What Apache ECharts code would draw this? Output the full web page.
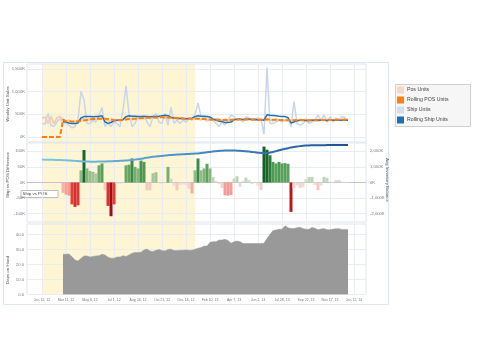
<!DOCTYPE html>
<html><head><meta charset="utf-8">
<script src="https://cdn.jsdelivr.net/npm/echarts@6/dist/echarts.min.js"></script>
<style>html,body{margin:0;padding:0;background:#fff}#c{width:480px;height:360px}</style>
</head><body><div id="c"></div>
<script>
// ---------- axis / category setup ----------
const AXIS_START = [2011, 11, 11];   // first (empty) week on the axis: Dec 11 2011
const AXIS_WEEKS = 114;              // weeks shown on the axis
const DATA_OFFSET = 5;               // week index of Jan 15 2012 (first data week, w0)
const xTickLabels = ['Jan 15, 12','Mar 11, 12','May 6, 12','Jul 1, 12','Aug 26, 12','Oct 21, 12','Dec 16, 12',
  'Feb 10, 13','Apr 7, 13','Jun 2, 13','Jul 28, 13','Sep 22, 13','Nov 17, 13','Jan 12, 14'];
const highlightRange = ['Jan 15, 12', 'Jan 6, 13'];
const salesTicks = [0, 500, 1000, 1500];
const diffTicks = [-100, -50, 0, 50, 100];
const invTicks = [-2000, -1000, 0, 1000, 2000];
const dohTicks = [0, 10, 20, 30, 40];

// ---------- data (K units), w0 = Jan 15 2012 ----------
const shipUnits = [300,280,520,260,230,330,400,330,300,260,
  200,230,380,1010,820,300,300,370,330,480,
  650,230,300,230,330,300,230,600,1130,520,
  230,300,450,420,480,330,230,450,520,330,
  300,520,260,660,300,370,300,370,330,400,
  370,500,750,450,420,450,400,370,300,230,
  330,260,370,480,450,370,400,330,450,420,
  380,400,420,400,60,1530,300,300,330,370,
  330,370,420,230,780,300,260,300,370,300,
  330,370,480,370,480,330,450,330,420,370,
  450,420,370];
const posUnits = [410,440,300,450,290,420,450,380,350,370,
  330,340,360,380,400,370,390,410,380,400,
  420,380,360,340,360,380,370,400,430,410,
  380,400,420,440,400,430,410,440,420,450,
  430,420,400,440,420,400,420,400,380,410,
  390,420,400,380,400,360,380,370,400,380,
  360,390,370,380,400,380,390,370,380,400,
  390,380,370,390,380,400,380,360,390,370,
  380,360,370,350,380,360,380,370,390,360,
  370,380,360,380,370,390,380,370,390,380,
  370,390,380];
const rollingPos = [0,0,0,0,0,0,0,380,350,345,
  340,340,345,355,365,375,385,395,400,405,
  405,400,395,385,375,370,370,375,385,395,
  400,405,410,415,420,425,425,430,430,435,
  435,430,430,425,425,420,415,410,405,405,
  400,405,405,400,395,390,385,380,380,380,
  375,375,375,380,380,385,385,385,385,385,
  385,385,380,380,380,385,385,380,380,375,
  375,370,370,370,370,370,370,370,370,370,
  370,370,370,375,375,375,375,375,378,380,
  380,380,380];
const rollingShipStart = 7;
const rollingShip = [340,330,310,300,300,310,420,450,450,450,
  445,450,455,470,330,300,320,360,370,370,
  380,450,470,460,460,455,450,455,450,445,
  450,455,460,470,480,470,430,420,410,410,
  410,405,410,415,450,470,460,460,455,440,
  400,370,350,340,320,320,330,380,390,390,
  385,390,390,385,385,380,380,370,490,480,
  475,470,460,455,450,430,310,330,360,370,
  370,365,365,370,370,375,370,370,365,370,
  370,375,370,370,370,370];
const diffStart = 7;
const shipVsPosDiff = [-33,-39,-42,-70,-78,-73,39,104,45,37,
  34,29,55,61,-25,-75,-108,-70,-5,-4,
  -2,55,57,77,50,45,70,66,-25,-25,
  30,33,-2,-5,2,50,12,-10,-25,-8,
  -6,-8,-20,-35,39,77,39,45,60,45,
  18,5,-5,-18,-41,-42,-40,13,20,-14,
  5,16,8,-5,1,-10,-24,115,105,87,
  66,61,66,61,62,60,-94,-18,-10,-18,
  -15,10,18,18,-8,-25,-10,18,15,3,
  2,8,8,3,2,1];
const avgInventory = [1470,1465,1460,1455,1450,1445,1440,1430,1420,1410,
  1400,1385,1370,1355,1345,1340,1335,1335,1335,1340,
  1345,1350,1355,1360,1370,1380,1390,1400,1410,1420,
  1440,1465,1495,1525,1560,1590,1620,1645,1665,1685,
  1705,1725,1745,1760,1775,1790,1800,1810,1820,1830,
  1840,1850,1865,1885,1910,1935,1960,1985,2005,2025,
  2040,2045,2045,2045,2045,2040,2035,2020,2000,1980,
  1960,1935,1910,1890,1880,1890,1920,1960,2010,2060,
  2110,2160,2200,2240,2275,2305,2330,2350,2365,2375,
  2380,2385,2388,2390,2392,2394,2396,2398,2400,2400,
  2402,2404,2405];
const dohStart = 7;
const daysOnHand = [26.8,26.9,27,25.2,23,22.3,24.1,25.7,25.7,25,
  25.4,25.7,25.9,26.8,26.4,24.9,24.2,24.2,25,25,
  25.9,25.3,26.4,27.5,28,28,28.2,29.7,30.3,29,
  28.6,29.5,30,29.3,29,30,30.2,29.3,29.3,29.5,
  29.5,29.7,29.5,29.5,30.2,30.8,31.3,32.3,32.3,34.8,
  35.2,35.2,36.3,36.3,36.8,36,34.2,35.2,35.6,35.2,
  34,34,34,34,34,34,34,34.2,37.4,40.1,
  42.6,43,43.5,43.5,45.9,44.5,44,44,44.5,44.9,
  44,43.5,43.5,44.7,44.2,43.2,43.6,44,43.2,43.2,
  43.6,43.9,43.9,43.4,43.4,43.2];

// ---------- build ----------
const MONTHS = ['Jan','Feb','Mar','Apr','May','Jun','Jul','Aug','Sep','Oct','Nov','Dec'];
const categories = [];
const t0 = Date.UTC(AXIS_START[0], AXIS_START[1], AXIS_START[2]);
for (let i = 0; i < AXIS_WEEKS; i++) {
  const d = new Date(t0 + i * 7 * 86400000);
  categories.push(MONTHS[d.getUTCMonth()] + ' ' + d.getUTCDate() + ', ' + String(d.getUTCFullYear()).slice(2));
}
function pad(arr, firstWeek) {
  return new Array(DATA_OFFSET + (firstWeek || 0)).fill(null).concat(arr);
}
const FONT = 'Liberation Sans, Arial, sans-serif';
const yLabelStyle = { fontSize: 4.2, color: '#7a7a7a', fontFamily: FONT };
const xLabelStyle = { fontSize: 3.5, color: '#7a7a7a', fontFamily: FONT };
const gridLine = '#e9edf2';
const borderCol = '#dfe6ee';
const showTick = (i, v) => xTickLabels.indexOf(v) >= 0;
const L = 27, W = 339;
const TITLE = 4.4;
function kfmt(v) { return Math.round(v).toLocaleString('en-US') + 'K'; }

function xAxisFor(gi, showLabels, hidden) {
  return {
    type: 'category', gridIndex: gi, data: categories, boundaryGap: false, show: !hidden,
    axisLine: { show: gi === 1, onZero: true, lineStyle: { color: '#c4c4c4', width: 1 } },
    axisTick: { show: false },
    axisLabel: Object.assign({ show: showLabels, interval: showTick, margin: 4 }, xLabelStyle),
    splitLine: { show: true, interval: showTick, lineStyle: { color: gridLine, width: 1 } }
  };
}

const chart = echarts.init(document.getElementById('c'), null, { renderer: 'canvas' });
chart.setOption({
  animation: false,
  textStyle: { fontFamily: FONT },
  grid: [
    { left: L, top: 64, width: W, height: 78, show: true, borderColor: borderCol, borderWidth: 1, backgroundColor: 'transparent' },
    { left: L, top: 143, width: W, height: 79, show: true, borderColor: borderCol, borderWidth: 1, backgroundColor: 'transparent' },
    { left: L, top: 224, width: W, height: 70.5, show: true, borderColor: borderCol, borderWidth: 1, backgroundColor: 'transparent' },
    { left: L, top: 64, width: W, height: 230.5, show: false }
  ],
  xAxis: [ xAxisFor(0, false), xAxisFor(1, false), xAxisFor(2, true), xAxisFor(3, false, true) ],
  yAxis: [
    { type: 'value', gridIndex: 0, min: -110, max: 1610,
      axisLine: { show: false }, axisTick: { show: false, customValues: salesTicks },
      axisLabel: Object.assign({ customValues: salesTicks, formatter: kfmt, margin: 2 }, yLabelStyle),
      splitLine: { show: true, lineStyle: { color: gridLine } } },
    { type: 'value', gridIndex: 1, min: -126.5, max: 126.5,
      axisLine: { show: false }, axisTick: { show: false, customValues: diffTicks },
      axisLabel: Object.assign({ customValues: diffTicks, formatter: kfmt, margin: 2 }, yLabelStyle),
      splitLine: { show: true, lineStyle: { color: gridLine } } },
    { type: 'value', gridIndex: 1, position: 'right', min: -2530, max: 2530,
      axisLine: { show: false }, axisTick: { show: false, customValues: invTicks },
      axisLabel: Object.assign({ customValues: invTicks, formatter: kfmt, margin: 4 }, yLabelStyle),
      splitLine: { show: false } },
    { type: 'value', gridIndex: 2, min: 0, max: 47,
      axisLine: { show: false }, axisTick: { show: false, customValues: dohTicks },
      axisLabel: Object.assign({ customValues: dohTicks, formatter: v => v.toFixed(1), margin: 3 }, yLabelStyle),
      splitLine: { show: true, lineStyle: { color: gridLine } } },
    { type: 'value', gridIndex: 3, min: 0, max: 1, show: false }
  ],
  visualMap: [{
    show: false, type: 'continuous', seriesIndex: 4, min: -110, max: 110,
    inRange: { color: ['#9b0b14','#c81a1f','#e5453d','#f2938a','#f4d2cd','#e2e6dc','#b8d1af','#86b57e','#4d9a52','#2a7a37','#155f29'] }
  }],
  legend: {
    orient: 'vertical', left: 397, top: 86.5, itemWidth: 7, itemHeight: 7, itemGap: 3,
    icon: 'rect', padding: 0,
    data: ['Pos Units', 'Rolling POS Units', 'Ship Units', 'Rolling Ship Units'],
    textStyle: { fontSize: 5.2, color: '#444', fontFamily: FONT, padding: [0, 0, 0, -2] }
  },
  graphic: [
    { type: 'rect', shape: { x: 3.5, y: 62.5, width: 385, height: 242 }, style: { fill: 'none', stroke: '#dde6f1', lineWidth: 1 }, z: -20 },
    { type: 'rect', shape: { x: 395.5, y: 84.5, width: 75, height: 42 }, style: { fill: '#f6f6f6', stroke: '#cfcfcf', lineWidth: 1 }, z: -20 },
    { type: 'text', x: 7.5, y: 104, rotation: Math.PI / 2, style: { text: 'Weekly Unit Sales', fontSize: TITLE, fill: '#555', align: 'center', verticalAlign: 'middle', fontFamily: FONT } },
    { type: 'text', x: 7.5, y: 175, rotation: Math.PI / 2, style: { text: 'Ship vs POS Difference', fontSize: TITLE, fill: '#555', align: 'center', verticalAlign: 'middle', fontFamily: FONT } },
    { type: 'text', x: 7.5, y: 270, rotation: Math.PI / 2, style: { text: 'Days on Hand', fontSize: TITLE, fill: '#555', align: 'center', verticalAlign: 'middle', fontFamily: FONT } },
    { type: 'text', x: 387.5, y: 180, rotation: -Math.PI / 2, style: { text: 'Avg Inventory Balance', fontSize: TITLE, fill: '#555', align: 'center', verticalAlign: 'middle', fontFamily: FONT } },
    { type: 'group', x: 21, y: 190.5, z: 50, children: [
      { type: 'rect', shape: { x: 0, y: 0, width: 37, height: 7 }, style: { fill: '#fff', stroke: '#b0b0b0', lineWidth: 0.8 } },
      { type: 'text', x: 1.5, y: 3.6, style: { text: 'Ship vs POS', fontSize: 4.4, fill: '#444', verticalAlign: 'middle', fontFamily: FONT } }
    ] }
  ],
  series: [
    { name: 'Ship Units', type: 'line', xAxisIndex: 0, yAxisIndex: 0, data: pad(shipUnits, 0), symbol: 'none',
      lineStyle: { color: '#c8d5ea', width: 1.5 }, itemStyle: { color: '#d3ddee' }, z: 2 },
    { name: 'Pos Units', type: 'line', xAxisIndex: 0, yAxisIndex: 0, data: pad(posUnits, 0), symbol: 'none',
      lineStyle: { color: '#f6cdb0', width: 2 }, itemStyle: { color: '#f7d7bf' }, z: 3 },
    { name: 'Rolling Ship Units', type: 'line', xAxisIndex: 0, yAxisIndex: 0, data: pad(rollingShip, rollingShipStart), symbol: 'none',
      lineStyle: { color: '#2171b5', width: 1.5 }, itemStyle: { color: '#1f6fb2' }, z: 4 },
    { name: 'Rolling POS Units', type: 'line', xAxisIndex: 0, yAxisIndex: 0, data: pad(rollingPos, 0), symbol: 'none',
      lineStyle: { color: '#ff7f0e', width: 2, type: [5, 2] }, itemStyle: { color: '#ff7f0e' }, z: 5 },
    { name: 'Ship vs POS Difference', type: 'bar', xAxisIndex: 1, yAxisIndex: 1, data: pad(shipVsPosDiff, diffStart),
      barCategoryGap: '0%', barWidth: '100%', z: 2 },
    { name: 'Avg Inventory Balance', type: 'line', xAxisIndex: 1, yAxisIndex: 2, data: pad(avgInventory, 0), symbol: 'none', smooth: true,
      lineStyle: { width: 2, color: new echarts.graphic.LinearGradient(0, 0, 1, 0, [
        { offset: 0, color: '#80c9e2' }, { offset: 0.45, color: '#4a93cc' }, { offset: 1, color: '#1f4f8f' }]) }, z: 6 },
    { name: 'Days on Hand', type: 'line', xAxisIndex: 2, yAxisIndex: 3, data: pad(daysOnHand, dohStart), symbol: 'none',
      lineStyle: { color: '#9a9a9a', width: 0.5 }, areaStyle: { color: '#999999', opacity: 1 }, z: 2 },
    { name: 'highlight', type: 'line', xAxisIndex: 3, yAxisIndex: 4, data: [null], symbol: 'none', silent: true, z: -1,
      markArea: { silent: true, z: -1, itemStyle: { color: '#fdf5d3' },
        data: [[{ xAxis: highlightRange[0] }, { xAxis: highlightRange[1] }]] } }
  ]
});
</script>
</body></html>
